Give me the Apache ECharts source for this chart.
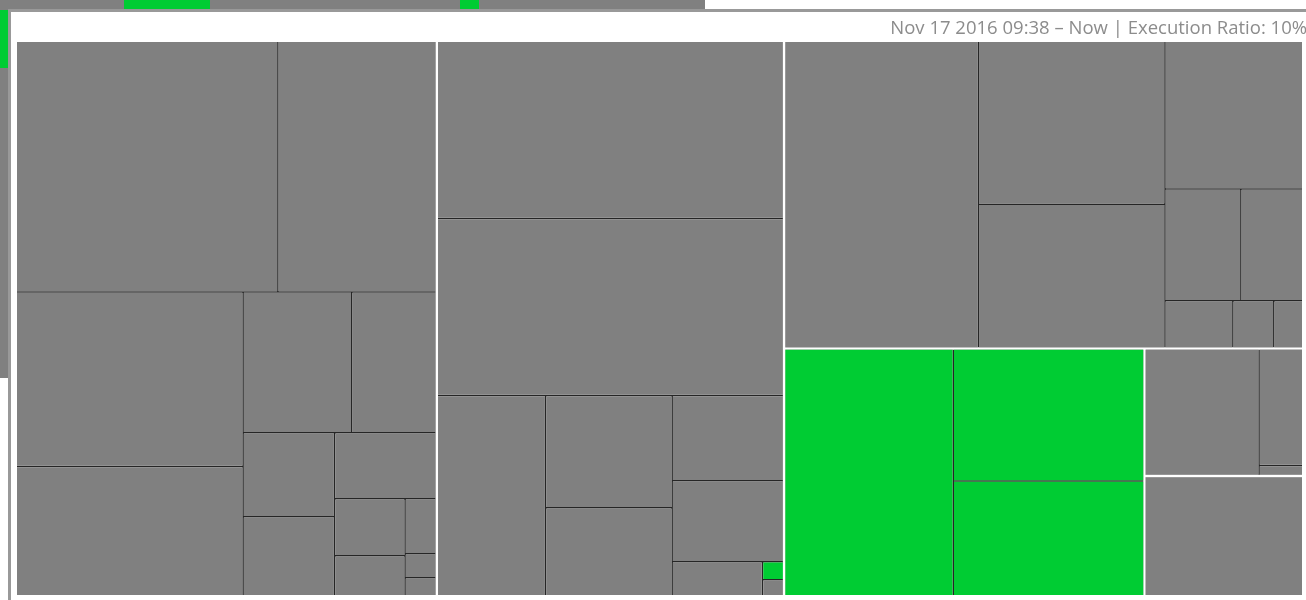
<!DOCTYPE html>
<html>
<head>
<meta charset="utf-8">
<script src="https://cdn.jsdelivr.net/npm/echarts@6/dist/echarts.min.js"></script>
<style>
  html, body { margin: 0; padding: 0; background: #fff; }
  .backdrop { position: absolute; left: 0; top: 0; width: 1306px; height: 600px; overflow: hidden; }
  .behind-top { position: absolute; left: 0; top: 0; width: 705px; height: 10px; background: #808080; }
  .behind-left { position: absolute; left: 0; top: 10px; width: 8px; height: 368px; background: #808080; }
  .behind-green { position: absolute; background: #00cc33; }
  .frame { position: absolute; left: 8px; top: 9px; right: 0; bottom: 0; background: #fff;
           border-top: 3px solid #999; border-left: 3px solid #999; }
  #chart { position: absolute; left: 0; top: 0; width: 1306px; height: 600px; }
</style>
</head>
<body>
<div class="backdrop">
  <div class="behind-top"></div>
  <div class="behind-left"></div>
  <div class="behind-green" style="left:124px;top:0;width:86px;height:9px"></div>
  <div class="behind-green" style="left:460px;top:0;width:19px;height:9px"></div>
  <div class="behind-green" style="left:0;top:10px;width:8px;height:58px"></div>
  <div class="frame"></div>
</div>
<div id="chart"></div>
<script>
  // test groups and the weight of every test in them
  const groupNames = ['G1', 'G2', 'G3', 'G4', 'G5', 'G6']
  const g1Values = [65250, 39500, 39400, 29154, 15228, 11844, 7644, 7189, 6666, 3990, 2800, 1705, 744, 558]
  const g2Values = [61065, 61065, 21600, 14112, 11088, 9435, 8991, 3060, 378, 336]
  const g3Values = [59170, 30294, 26741, 20286, 8436, 6882, 3196, 1927, 1363]
  const g4Values = [41496, 25080, 21850]
  const g5Values = [14490, 5104, 440]
  const g6Values = [18921]
  // tests that were executed (group, index)
  const executed = ['G2-8', 'G4-0', 'G4-1', 'G4-2']

  const titleText = 'Nov 17 2016 09:38 \u2013 Now | Execution Ratio: 10%'

  const groupValues = [g1Values, g2Values, g3Values, g4Values, g5Values, g6Values]

  let treeData = []
  for (let i = 0; i < groupNames.length; i++) {
    let children = []
    for (let j = 0; j < groupValues[i].length; j++) {
      let id = groupNames[i] + '-' + j
      children.push({
        name: id,
        value: groupValues[i][j],
        itemStyle: {
          color: executed.indexOf(id) >= 0 ? '#00cc33' : '#808080'
        }
      })
    }
    treeData.push({
      name: groupNames[i],
      children: children
    })
  }

  let chart = echarts.init(document.getElementById('chart'))
  chart.setOption({
    animation: false,
    title: {
      text: titleText,
      right: -6,
      top: 14,
      textStyle: {
        fontFamily: 'Open Sans',
        fontSize: 18.5,
        fontWeight: 'normal',
        color: '#8c8c8c'
      }
    },
    series: [{
      type: 'treemap',
      left: 17,
      top: 42,
      right: 4,
      bottom: 5,
      squareRatio: 1,
      roam: false,
      nodeClick: false,
      breadcrumb: { show: false },
      label: { show: false },
      upperLabel: { show: false },
      silent: true,
      levels: [
        { itemStyle: { borderWidth: 0, gapWidth: 2.5, borderColor: '#fff' } },
        { itemStyle: { borderWidth: 0, gapWidth: 1.5, borderColor: '#262626' } },
        { itemStyle: { borderWidth: 0, gapWidth: 0 } }
      ],
      data: treeData
    }]
  })
</script>
</body>
</html>
